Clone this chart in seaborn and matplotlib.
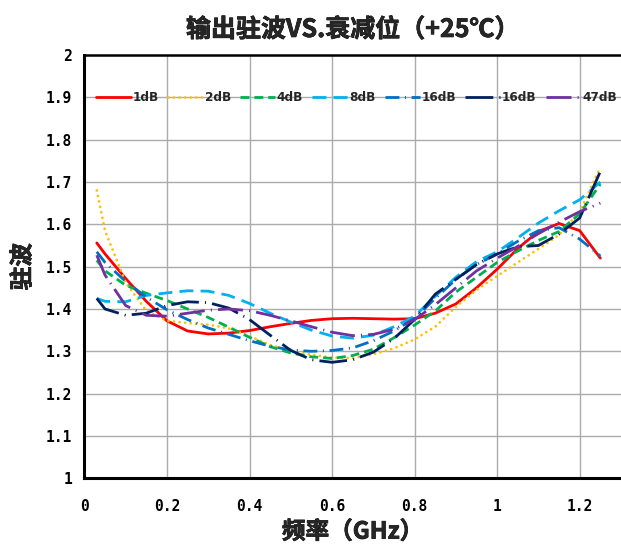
import numpy as np
import pandas as pd
import matplotlib
matplotlib.use("Agg")
import matplotlib.pyplot as plt
import matplotlib.patheffects as pe
import seaborn as sns

# Frequency points (GHz)
freq = [0.03, 0.05, 0.10, 0.15, 0.20, 0.25, 0.30, 0.35, 0.40, 0.45, 0.50, 0.55, 0.60,
        0.65, 0.70, 0.75, 0.80, 0.85, 0.90, 0.95, 1.00, 1.05, 1.10, 1.15, 1.20, 1.25]

# Output VSWR for each attenuation state
vswr_1db = [1.556, 1.530, 1.472, 1.418, 1.372, 1.348, 1.341, 1.343, 1.349, 1.358, 1.366, 1.373, 1.377,
            1.378, 1.377, 1.376, 1.377, 1.390, 1.412, 1.450, 1.494, 1.543, 1.583, 1.602, 1.585, 1.520]
vswr_2db = [1.680, 1.585, 1.462, 1.396, 1.372, 1.367, 1.363, 1.354, 1.336, 1.315, 1.302, 1.292, 1.285,
            1.284, 1.293, 1.307, 1.328, 1.358, 1.405, 1.445, 1.478, 1.510, 1.542, 1.575, 1.630, 1.735]
vswr_4db = [1.515, 1.490, 1.456, 1.437, 1.420, 1.400, 1.380, 1.357, 1.333, 1.311, 1.296, 1.287, 1.283,
            1.290, 1.305, 1.332, 1.362, 1.395, 1.440, 1.475, 1.510, 1.537, 1.562, 1.583, 1.625, 1.695]
vswr_8db = [1.425, 1.418, 1.417, 1.432, 1.438, 1.443, 1.442, 1.432, 1.413, 1.390, 1.369, 1.350, 1.336,
            1.331, 1.338, 1.358, 1.383, 1.430, 1.475, 1.512, 1.535, 1.568, 1.603, 1.632, 1.658, 1.700]
vswr_16db_a = [1.535, 1.510, 1.465, 1.428, 1.398, 1.375, 1.355, 1.340, 1.325, 1.312, 1.303, 1.300, 1.302,
               1.308, 1.325, 1.348, 1.378, 1.425, 1.470, 1.505, 1.530, 1.560, 1.585, 1.592, 1.565, 1.525]
vswr_16db_b = [1.425, 1.400, 1.385, 1.390, 1.408, 1.417, 1.415, 1.402, 1.375, 1.338, 1.302, 1.280, 1.274,
               1.280, 1.298, 1.330, 1.375, 1.435, 1.470, 1.505, 1.530, 1.547, 1.550, 1.577, 1.615, 1.725]
vswr_47db = [1.527, 1.480, 1.408, 1.385, 1.383, 1.390, 1.397, 1.400, 1.396, 1.385, 1.372, 1.358, 1.345,
             1.337, 1.340, 1.352, 1.375, 1.410, 1.450, 1.490, 1.520, 1.548, 1.578, 1.605, 1.630, 1.650]

labels = ["1dB", "2dB", "4dB", "8dB", "16dB", "16dB", "47dB"]
series = [vswr_1db, vswr_2db, vswr_4db, vswr_8db, vswr_16db_a, vswr_16db_b, vswr_47db]
colors = ["#FF0000", "#FFC000", "#00B050", "#00B0F0", "#0070C0", "#002060", "#7030A0"]
styles = ["-", (0, (0.01, 2.0)), (0, (3.2, 1.8)), (0, (5.0, 2.6)),
          (0, (5.0, 2.0, 0.4, 2.0)), (0, (10, 2.2, 0.4, 2.2)), (0, (9, 2.2, 0.4, 2.2))]
caps = ["butt", "round", "butt", "butt", "butt", "butt", "butt"]

sns.set_style("white")
cjk = ["Noto Sans CJK SC", "DejaVu Sans"]
plt.rcParams["font.family"] = cjk

fig = plt.figure(figsize=(6.21, 5.45), dpi=100)
ax = fig.add_axes([0.1359, 0.1224, 0.8641, 0.7767])

for lab, vals, col, ls, cap in zip(labels, series, colors, styles, caps):
    df = pd.DataFrame({"freq": freq, "vswr": vals})
    sns.lineplot(data=df, x="freq", y="vswr", ax=ax, color=col, linestyle=ls,
                 linewidth=2.0, dash_capstyle=cap, solid_capstyle="round",
                 solid_joinstyle="round", label=lab, sort=False, zorder=3)

ax.set_xlim(0, 1.3)
ax.set_ylim(1, 2)
ax.set_xticks(np.arange(0, 1.21, 0.2))
ax.set_xticks(np.arange(0, 1.3, 0.04), minor=True)
ax.set_yticks(np.arange(1, 2.01, 0.1))
ax.set_yticks(np.arange(1, 2.0, 0.05), minor=True)
ax.set_xticklabels(["0", "0.2", "0.4", "0.6", "0.8", "1", "1.2"])
ax.set_yticklabels(["1", "1.1", "1.2", "1.3", "1.4", "1.5", "1.6", "1.7", "1.8", "1.9", "2"])

ax.grid(True, which="major", color="#ababab", linewidth=1.0, zorder=0)
ax.tick_params(axis="both", which="both", direction="in", colors="black")
ax.tick_params(axis="x", which="major", length=0, pad=15)
ax.tick_params(axis="x", which="minor", length=4, width=1.5)
ax.tick_params(axis="y", which="major", length=0, pad=9)
ax.tick_params(axis="y", which="minor", length=4, width=1.5)
for t in ax.get_xticklabels() + ax.get_yticklabels():
    t.set_fontfamily(["DejaVu Sans Mono"])
    t.set_fontweight("bold")
    t.set_fontsize(10.5)

for side in ["left", "bottom"]:
    ax.spines[side].set_linewidth(2.2)
    ax.spines[side].set_color("black")
ax.spines["top"].set_linewidth(1.8)
ax.spines["top"].set_color("black")
ax.spines["right"].set_visible(False)

heavy = [pe.withStroke(linewidth=0.5, foreground="black")]
ax.set_title("输出驻波VS.衰减位（+25℃）", fontsize=18, fontweight="bold", pad=13,
             path_effects=heavy)
ax.set_xlabel("频率（GHz）", fontsize=17, fontweight="bold", labelpad=4,
              path_effects=heavy)
ax.set_ylabel("驻波", fontsize=17, fontweight="bold", labelpad=8,
              path_effects=heavy)

leg = ax.legend(loc="center", bbox_to_anchor=(0.507, 0.9), ncol=7, frameon=False,
                handlelength=2.9, handletextpad=0.15, columnspacing=0.75,
                borderaxespad=0, borderpad=0,
                prop={"family": "DejaVu Sans", "weight": "bold", "size": 8.7})

fig.savefig("out.png", dpi=100)
